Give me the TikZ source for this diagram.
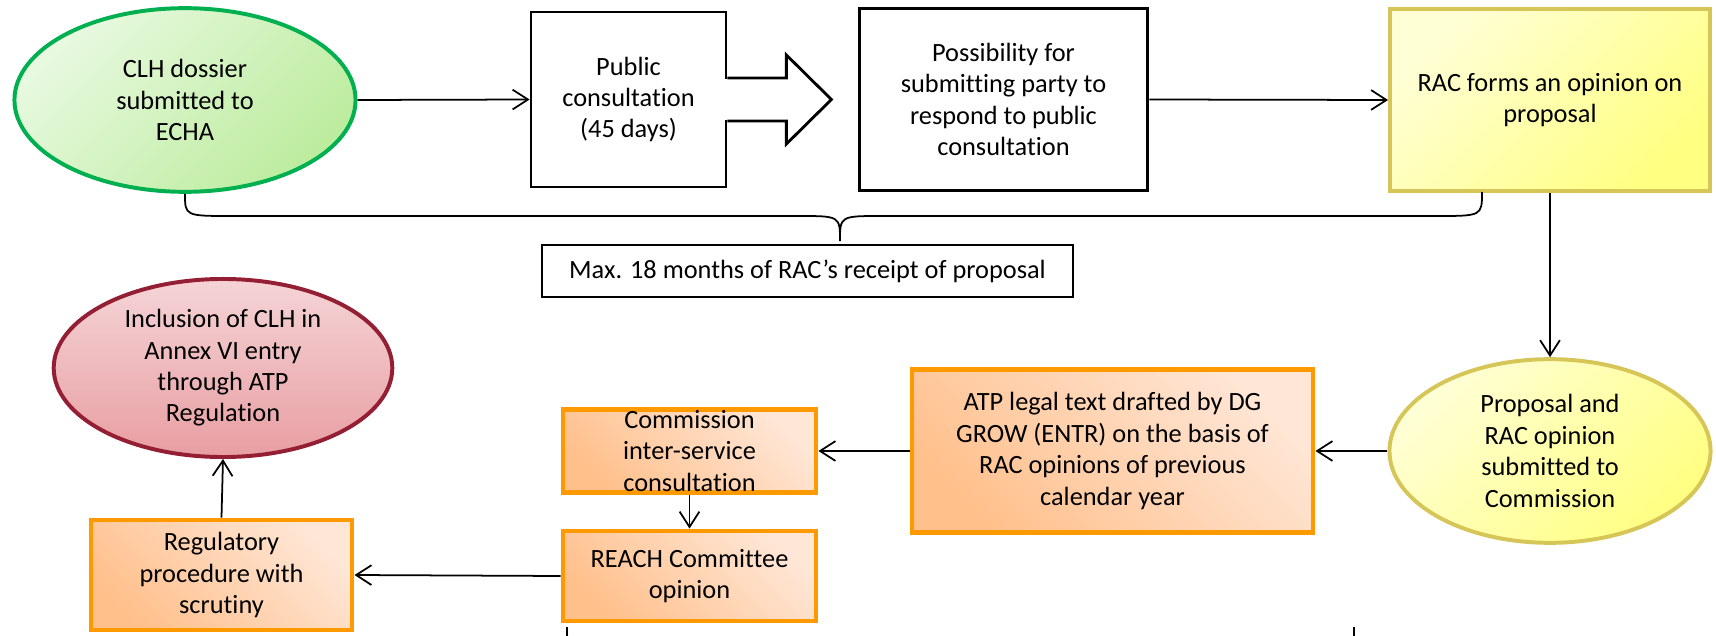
\documentclass[tikz,border=0pt]{standalone}
\usepackage{fontspec}
\setmainfont{Carlito}[Ligatures=NoCommon]
\usetikzlibrary{positioning,arrows.meta,shapes.geometric,calc}

\definecolor{echagreen}{RGB}{0,176,80}
\definecolor{greenlight}{RGB}{232,249,224}
\definecolor{greendark}{RGB}{188,236,158}
\definecolor{racyellow}{RGB}{214,198,88}
\definecolor{yellowlight}{RGB}{255,255,214}
\definecolor{yellowdark}{RGB}{255,255,130}
\definecolor{atporange}{RGB}{255,153,0}
\definecolor{orangelight}{RGB}{255,230,214}
\definecolor{orangedark}{RGB}{255,192,140}
\definecolor{annexred}{RGB}{148,30,52}
\definecolor{redlight}{RGB}{245,212,214}
\definecolor{reddark}{RGB}{232,158,162}

\begin{document}
\begin{tikzpicture}[
    x=0.016cm, y=-0.016cm,
    font=\fontsize{12}{14.3}\selectfont,
    >={Straight Barb[length=7pt,width=9pt]},
    flow/.style={->, line width=0.8pt},
    brace/.style={line width=0.8pt},
    stagebox/.style={rectangle, draw, line width=1.3pt, fill=white, align=center, inner sep=1pt},
    notebox/.style={rectangle, draw, line width=0.9pt, fill=white, align=center},
    greenoval/.style={ellipse, draw=echagreen, line width=1.8pt, top color=greenlight, bottom color=greendark, shading angle=45, align=center, inner sep=0pt},
    yellowbox/.style={rectangle, draw=racyellow, line width=1.8pt, top color=yellowlight, bottom color=yellowdark, shading angle=45, align=center, inner sep=1pt},
    yellowoval/.style={ellipse, draw=racyellow, line width=1.8pt, top color=yellowlight, bottom color=yellowdark, shading angle=45, align=center, inner sep=0pt},
    orangebox/.style={rectangle, draw=atporange, line width=2.2pt, top color=orangelight, bottom color=orangedark, shading angle=-45, align=center, inner sep=0pt},
    redoval/.style={ellipse, draw=annexred, line width=1.8pt, top color=redlight, bottom color=reddark, align=center, inner sep=0pt}
  ]
  \clip (0,0) rectangle (1716,636);

  % top row
  \node[greenoval, minimum width=5.46cm, minimum height=2.94cm] (dossier) at (185,100) {CLH dossier\\submitted to\\ECHA};
  \node[stagebox, minimum width=3.12cm, minimum height=2.80cm] (pubcons) at (628.5,99.5) {Public\\consultation\\(45 days)};
  \node[stagebox, minimum width=4.62cm, minimum height=2.90cm] (possib) at (1003.5,99.5) {Possibility for\\submitting party to\\respond to public\\consultation};
  \node[yellowbox, minimum width=5.12cm, minimum height=2.91cm] (racop) at (1550,100) {RAC forms an opinion on\\proposal};

  % block arrow out of the consultation box
  \fill[white] ($(pubcons.east)+(-3,-20.5)$) rectangle ($(pubcons.east)+(3,20.5)$);
  \draw[line width=1.3pt] ($(pubcons.east)+(0,-21.5)$) -- ++(59,0) -- ++(0,-23) -- ++(45,44.5)
    -- ++(-45,44.5) -- ++(0,-23) -- ++(-59,0);

  % time limit
  \coordinate (brL) at (dossier.south);
  \coordinate (brR) at (1482,192);
  \coordinate (brTip) at (840,241);
  \draw[brace] (brL) .. controls (185,216) .. (232,216) -- (798,216) .. controls (840,216) .. (brTip)
    .. controls (840,216) .. (882,216) -- (1436,216) .. controls (1482,216) .. (brR);
  \node[notebox, minimum width=8.50cm, minimum height=0.83cm] (maxbox) at (807.5,271) {Max. 18 months of RAC’s receipt of proposal};

  % bottom row
  \node[yellowoval, minimum width=5.14cm, minimum height=2.94cm] (proposal) at (1550,451) {Proposal and\\RAC opinion\\submitted to\\Commission};
  \node[orangebox, minimum width=6.42cm, minimum height=2.62cm] (atp) at (1112.5,451) {ATP legal text drafted by DG\\GROW (ENTR) on the basis of\\RAC opinions of previous\\calendar year};
  \node[orangebox, inner ysep=-4pt, minimum width=4.05cm, minimum height=1.34cm] (comm) at (689.5,451) {Commission\\inter-service\\consultation};
  \node[orangebox, minimum width=4.05cm, minimum height=1.44cm] (reach) at (689.5,576) {REACH Committee\\opinion};
  \node[orangebox, minimum width=4.18cm, minimum height=1.76cm] (regproc) at (221.5,575) {Regulatory\\procedure with\\scrutiny};
  \node[redoval, minimum width=5.42cm, minimum height=2.85cm] (inclusion) at (223,368) {Inclusion of CLH in\\Annex VI entry\\through ATP\\Regulation};

  \coordinate (lowL) at (567,627);
  \coordinate (lowR) at (1354,627);
  \draw[brace] (lowL) .. controls (567,652) .. (612,652) -- (1309,652) .. controls (1354,652) .. (lowR);

  % connectors
  \draw[flow] (dossier.east) -- (pubcons.west);
  \draw[flow] (possib.east) -- (racop.west);
  \draw[flow] (racop.south) -- (proposal.north);
  \draw[flow] (proposal.west) -- (atp.east);
  \draw[flow] (atp.west) -- (comm.east);
  \draw[flow] (comm.south) -- (reach.north);
  \draw[flow] (reach.west) -- (regproc.east);
  \draw[flow] (regproc.north) -- (inclusion.south);
\end{tikzpicture}
\end{document}
